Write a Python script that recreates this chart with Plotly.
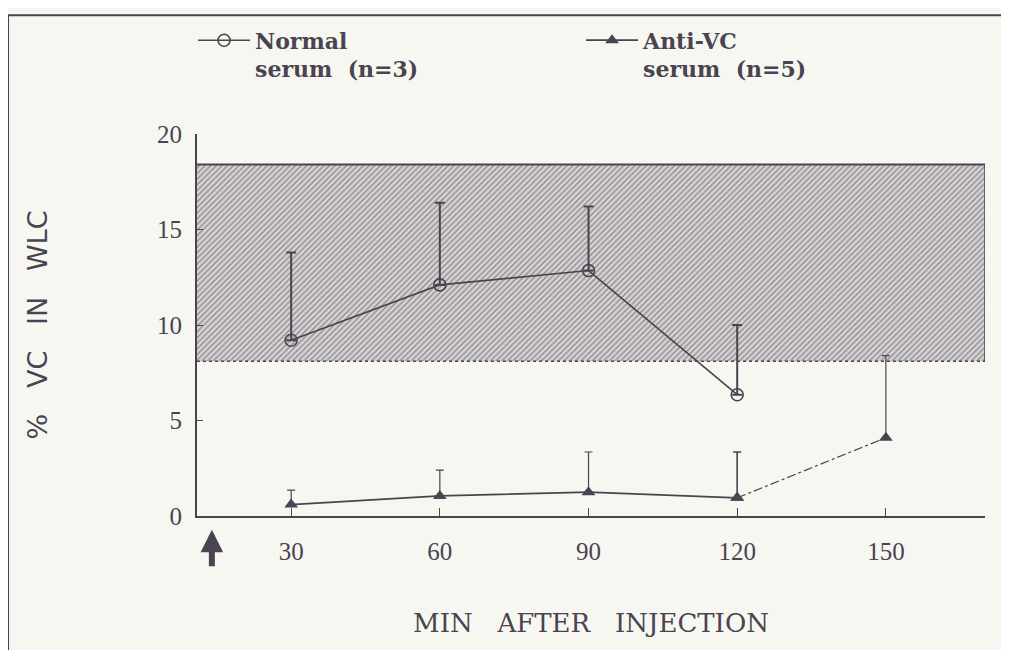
import plotly.graph_objects as go

# ---- data ----
minutes = [30, 60, 90, 120, 150]
normal_mean = [9.2, 12.1, 12.85, 6.35]
normal_err_up = [4.6, 4.3, 3.35, 3.65]
anti_mean = [0.6, 1.05, 1.25, 0.95, 4.1]
anti_err_up = [0.75, 1.35, 2.1, 2.4, 4.3]
band_low, band_high = 8.1, 18.4
band_x = [11, 170]
injection_x = 14
x_ticks = [30, 60, 90, 120, 150]
y_ticks = [0, 5, 10, 15, 20]

ink = "#4b4350"
bg = "#f7f7f2"
serif = "Liberation Serif"

fig = go.Figure()

# normal range band (hatched)
fig.add_trace(go.Scatter(
    x=[band_x[0], band_x[1], band_x[1], band_x[0], band_x[0]],
    y=[band_low, band_low, band_high, band_high, band_low],
    fill="toself", mode="none", showlegend=False, hoverinfo="skip",
    fillcolor="rgba(0,0,0,0)",
    fillpattern=dict(shape="/", fgcolor="#575060", bgcolor="#d9d6d5",
                     size=4, solidity=0.42),
))

# Normal serum
fig.add_trace(go.Scatter(
    x=minutes[:len(normal_mean)], y=normal_mean,
    mode="lines+markers", name="<b>Normal</b><br><b>serum  (n=3)</b>",
    line=dict(color=ink, width=1.6),
    marker=dict(symbol="circle-open", size=12, color=ink, line=dict(width=1.6)),
    error_y=dict(type="data", array=normal_err_up,
                 arrayminus=[0] * len(normal_mean),
                 color=ink, thickness=2, width=5),
))

# Anti-VC serum: 30-120 solid with markers
fig.add_trace(go.Scatter(
    x=minutes[:4], y=anti_mean[:4],
    mode="lines+markers", name="<b>Anti-VC</b><br><b>serum  (n=5)</b>",
    line=dict(color=ink, width=1.8),
    marker=dict(symbol="triangle-up", size=12, color=ink),
    error_y=dict(type="data", array=anti_err_up[:4],
                 arrayminus=[0] * 4, color=ink, thickness=1.2, width=4),
))
# Anti-VC serum: dash-dot last segment and 150 point
fig.add_trace(go.Scatter(
    x=minutes[3:], y=anti_mean[3:],
    mode="lines+markers", showlegend=False, hoverinfo="skip",
    line=dict(color=ink, width=1.2, dash="dashdot"),
    marker=dict(symbol="triangle-up", size=12, color=ink),
    error_y=dict(type="data", array=anti_err_up[3:],
                 arrayminus=[0] * 2, color=ink, thickness=1.2, width=4),
))

# band borders
fig.add_shape(type="line", x0=band_x[0], x1=band_x[1], y0=band_high, y1=band_high,
              line=dict(color=ink, width=2))
fig.add_shape(type="line", x0=band_x[1], x1=band_x[1], y0=band_low, y1=band_high,
              line=dict(color=ink, width=1.5))
fig.add_shape(type="line", x0=band_x[0], x1=band_x[1], y0=band_low, y1=band_low,
              line=dict(color=ink, width=1.5, dash="dot"))

# outer frame
fig.add_shape(type="rect", xref="paper", yref="paper",
              x0=-0.2398, x1=1.0216, y0=-0.5, y1=1.311,
              line=dict(color=ink, width=2), layer="below")

# injection arrow
fig.add_annotation(x=injection_x, y=-0.036, xref="x", yref="paper",
                   ax=0, ay=38, text="", showarrow=True,
                   arrowhead=2, arrowsize=0.75, arrowwidth=6, arrowcolor=ink)

fig.update_layout(
    width=1009, height=650,
    margin=dict(l=189, r=32, t=122, b=142),
    paper_bgcolor=bg, plot_bgcolor=bg,
    font=dict(family=serif, color=ink, size=22),
    showlegend=True,
    legend=dict(orientation="h", x=-0.005, y=1.30, xanchor="left", yanchor="top",
                font=dict(family="DejaVu Serif", size=22, color=ink),
                bgcolor="rgba(0,0,0,0)", valign="top",
                entrywidth=321, entrywidthmode="pixels", itemwidth=52),
    xaxis=dict(range=band_x, tickvals=x_ticks, ticktext=[str(v) for v in x_ticks],
               showgrid=False, zeroline=False, showline=True, linecolor=ink,
               linewidth=2, ticks="inside", ticklen=8, tickcolor=ink,
               tickfont=dict(size=25, family=serif), ticklabelstandoff=12,
               title=dict(text="MIN   AFTER   INJECTION",
                          font=dict(size=26, family="DejaVu Serif"),
                          standoff=50)),
    yaxis=dict(range=[0, 20], tickvals=y_ticks, showgrid=False, zeroline=False,
               showline=True, linecolor=ink, linewidth=2, ticks="inside",
               ticklen=6, tickcolor=ink, tickfont=dict(size=25, family=serif),
               ticklabelstandoff=8,
               title=dict(text="%   VC   IN   WLC",
                          font=dict(size=27, family="DejaVu Sans"),
                          standoff=102)),
)

fig.write_html("out.html")
